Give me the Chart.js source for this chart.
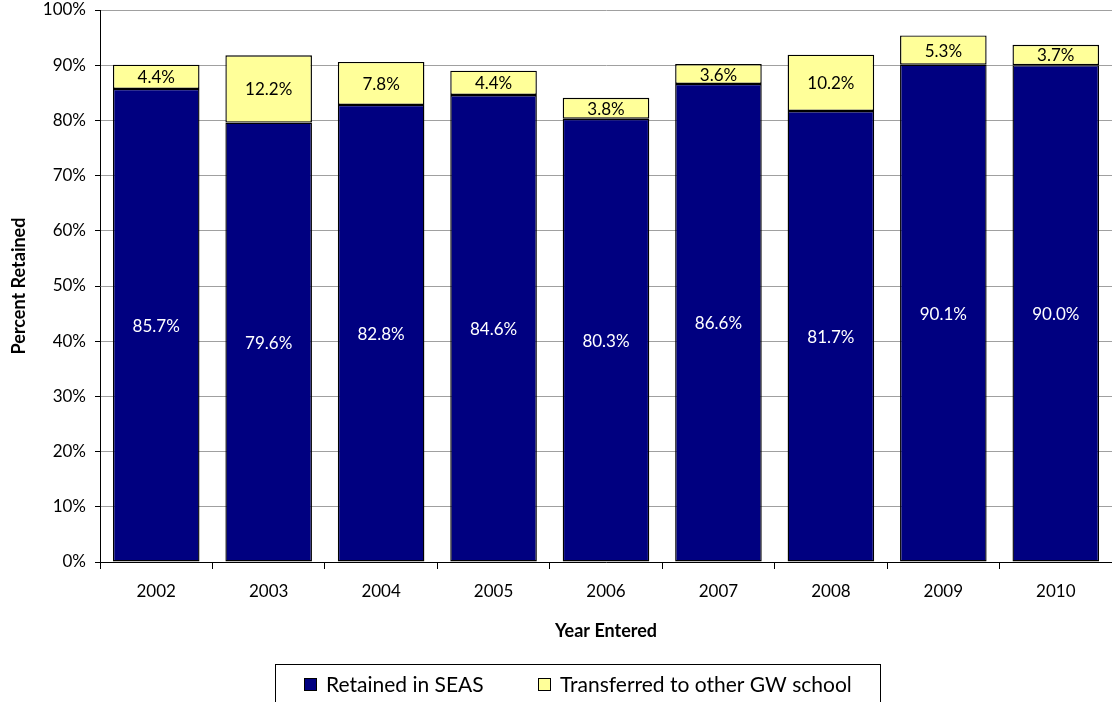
<!DOCTYPE html>
<html lang="en">
<head>
	<meta charset="UTF-8">
	<title>Retention by Year Entered</title>
	<style>
	*{
		margin: 0;
		padding: 0;
		box-sizing: border-box;
	}
	body{
		background: #fff;
	}
	.chartbox{
		width: 1112px;
		height: 702px;
	}
	</style>
</head>
<body>
	<div class="chartbox">
		<canvas id="myChart" width="1112" height="702"></canvas>
	</div>

<script src="https://cdn.jsdelivr.net/npm/chart.js"></script>

<script>
	const years = ['2002', '2003', '2004', '2005', '2006', '2007', '2008', '2009', '2010'];
	const retainedSeas = [85.7, 79.6, 82.8, 84.6, 80.3, 86.6, 81.7, 90.1, 90.0];
	const transferredGw = [4.4, 12.2, 7.8, 4.4, 3.8, 3.6, 10.2, 5.3, 3.7];
	const yTicks = [0, 10, 20, 30, 40, 50, 60, 70, 80, 90, 100];

	const FONT = 'Lato, "Noto Sans", sans-serif';

	// writes the value in the middle of every bar segment
	const segmentLabels = {
		id: 'segmentLabels',
		afterDatasetsDraw(chart){
			const ctx = chart.ctx;
			ctx.save();
			ctx.font = '17px ' + FONT;
			ctx.textAlign = 'center';
			ctx.textBaseline = 'middle';
			chart.data.datasets.forEach((ds, i) => {
				const meta = chart.getDatasetMeta(i);
				ctx.fillStyle = i === 0 ? '#ffffff' : '#000000';
				meta.data.forEach((bar, j) => {
					const p = bar.getProps(['x', 'y', 'base'], true);
					ctx.fillText(ds.data[j].toFixed(1) + '%', p.x, (p.y + p.base) / 2 + 1);
				});
			});
			ctx.restore();
		}
	};

	// boxed legend under the axis title
	const boxLegend = {
		id: 'boxLegend',
		afterDraw(chart){
			const ctx = chart.ctx;
			const left = 275, right = 880, top = 664;
			ctx.save();
			ctx.strokeStyle = '#000';
			ctx.lineWidth = 1;
			ctx.strokeRect(left + 0.5, top + 0.5, right - left, 60);
			ctx.font = '21px ' + FONT;
			ctx.textBaseline = 'middle';
			ctx.textAlign = 'left';
			const itemX = [304, 538];
			chart.data.datasets.forEach((ds, i) => {
				const x = itemX[i];
				ctx.fillStyle = ds.backgroundColor;
				ctx.fillRect(x, 678, 13, 13);
				ctx.strokeRect(x + 0.5, 678.5, 12, 12);
				ctx.fillStyle = '#000';
				ctx.fillText(ds.label, x + 22, 685);
			});
			ctx.restore();
		}
	};

	const data = {
		labels: years,
		datasets: [{
			label: 'Retained in SEAS',
			data: retainedSeas,
			backgroundColor: '#000080',
			borderColor: '#000000',
			borderWidth: 1.4,
			borderSkipped: false,
			inflateAmount: 0,
			categoryPercentage: 1,
			barPercentage: 0.77
		}, {
			label: 'Transferred to other GW school',
			data: transferredGw,
			backgroundColor: '#ffff99',
			borderColor: '#000000',
			borderWidth: 1.4,
			borderSkipped: false,
			inflateAmount: 0,
			categoryPercentage: 1,
			barPercentage: 0.77
		}]
	};

	const config = {
		type: 'bar',
		data,
		plugins: [segmentLabels, boxLegend],
		options: {
			responsive: false,
			animation: false,
			layout: {
				padding: {top: 10, right: 0, bottom: 60, left: 0}
			},
			plugins: {
				legend: {display: false},
				tooltip: {enabled: false}
			},
			scales: {
				x: {
					stacked: true,
					afterFit: s => { s.height = 80; s.paddingLeft = 0; s.paddingRight = 0; },
					grid: {
						offset: true,
						drawOnChartArea: false,
						drawTicks: true,
						tickLength: 7,
						tickColor: '#000'
					},
					border: {display: true, color: '#000', width: 1},
					ticks: {
						color: '#000',
						padding: 12,
						font: {family: FONT, size: 17}
					},
					title: {
						display: true,
						text: 'Year Entered',
						color: '#000',
						padding: {top: 0, bottom: 0},
						font: {family: FONT, size: 18, weight: 'bold'}
					}
				},
				y: {
					stacked: true,
					min: 0,
					max: 100,
					afterFit: s => { s.width = 100; s.paddingTop = 0; s.paddingBottom = 0; },
					afterBuildTicks: s => { s.ticks = yTicks.map(v => ({value: v})); },
					grid: {
						color: '#a0a0a0',
						tickColor: '#000',
						tickLength: 5
					},
					border: {display: true, color: '#000', width: 1},
					ticks: {
						color: '#000',
						padding: 9,
						font: {family: FONT, size: 17},
						callback: v => v + '%'
					},
					title: {
						display: true,
						text: 'Percent Retained',
						color: '#000',
						padding: {top: 8, bottom: 0},
						font: {family: FONT, size: 18, weight: 'bold'}
					}
				}
			}
		}
	};

	const myChart = new Chart(document.getElementById('myChart'), config);
</script>
</body>
</html>
